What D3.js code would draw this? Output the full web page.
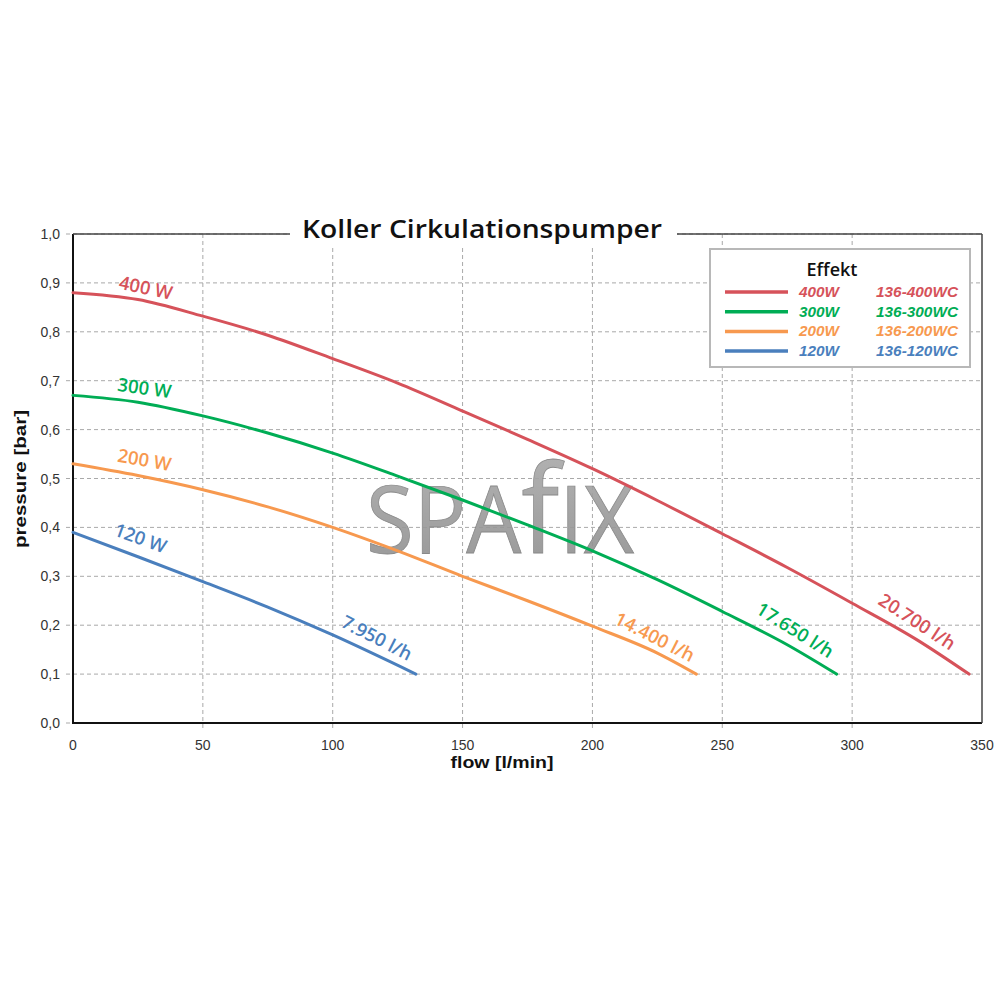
<!DOCTYPE html>
<html><head><meta charset="utf-8">
<script src="https://cdn.jsdelivr.net/npm/d3@7"></script>
<style>body{margin:0;background:#fff}svg{display:block}</style>
</head><body>
<svg id="c" width="1000" height="1000"></svg>
<script>
// ---- data ----
const seriesNames = ["400W", "300W", "200W", "120W"];
const seriesCodes = ["136-400WC", "136-300WC", "136-200WC", "136-120WC"];
const seriesColors = ["#d6525a", "#00ad55", "#f7994f", "#4a7fbd"];
const flow400 = [0, 25, 50, 75, 100, 125, 150, 175, 200, 225, 250, 275, 300, 325, 345];
const pres400 = [0.88, 0.866, 0.832, 0.793, 0.745, 0.695, 0.638, 0.58, 0.52, 0.455, 0.387, 0.318, 0.245, 0.17, 0.10];
const flow300 = [0, 25, 50, 75, 100, 125, 150, 175, 200, 225, 250, 275, 294];
const pres300 = [0.67, 0.656, 0.628, 0.593, 0.552, 0.505, 0.456, 0.405, 0.352, 0.293, 0.228, 0.16, 0.10];
const flow200 = [0, 25, 50, 75, 100, 125, 150, 175, 200, 225, 240];
const pres200 = [0.53, 0.506, 0.477, 0.442, 0.40, 0.352, 0.30, 0.25, 0.198, 0.143, 0.10];
const flow120 = [0, 25, 50, 75, 100, 132];
const pres120 = [0.39, 0.34, 0.289, 0.237, 0.18, 0.10];
const curveLabels = ["400 W", "300 W", "200 W", "120 W"];
const endLabels = ["20.700 l/h", "17.650 l/h", "14.400 l/h", "7.950 l/h"];
const xTicks = [0, 50, 100, 150, 200, 250, 300, 350];
const yTicks = [0, 0.1, 0.2, 0.3, 0.4, 0.5, 0.6, 0.7, 0.8, 0.9, 1.0];
const titleText = "Koller Cirkulationspumper";
const xLabel = "flow [l/min]";
const yLabel = "pressure [bar]";
const legendTitle = "Effekt";
const watermark = ["SPA", "f", "IX"];

// label anchors in data units [flow, pressure, angle]
const curveLabelPos = [[28, 0.89, 12], [27.5, 0.685, 8], [27.5, 0.538, 10], [26, 0.378, 20]];
const endLabelPos = [[325, 0.207, 33], [278, 0.19, 32], [224, 0.176, 27], [117, 0.174, 27]];

const series = [
  {f: flow400, p: pres400}, {f: flow300, p: pres300},
  {f: flow200, p: pres200}, {f: flow120, p: pres120}
];

// ---- layout ----
const svg = d3.select("#c");
const L = 73, R = 982, T = 234, B = 723;
const x = d3.scaleLinear().domain([0, 350]).range([L, R]);
const y = d3.scaleLinear().domain([0, 1]).range([B, T]);
const fmtY = d => d3.format(".1f")(d).replace(".", ",");

// gridlines
const grid = svg.append("g").attr("stroke", "#a9a9a9").attr("stroke-width", 1).attr("stroke-dasharray", "4,3");
grid.selectAll("line.h").data(yTicks.slice(1)).join("line")
  .attr("x1", L - 7).attr("x2", R).attr("y1", d => y(d)).attr("y2", d => y(d));
grid.selectAll("line.v").data(xTicks.slice(1, -1)).join("line")
  .attr("x1", d => x(d)).attr("x2", d => x(d)).attr("y1", T).attr("y2", B + 6);
grid.append("line").attr("x1", L - 7).attr("x2", L).attr("y1", y(0)).attr("y2", y(0));

// watermark
const wmGrad = svg.append("defs").append("linearGradient").attr("id", "wmg").attr("x1", 0).attr("y1", 0).attr("x2", 0).attr("y2", 1);
wmGrad.append("stop").attr("offset", "0%").attr("stop-color", "#b0b0b0");
wmGrad.append("stop").attr("offset", "100%").attr("stop-color", "#8a8a8a");
const wm = svg.append("text").attr("x", 500).attr("y", 553).attr("text-anchor", "middle")
  .attr("font-family", "Open Sans, sans-serif").attr("font-size", 94)
  .attr("fill", "url(#wmg)").attr("stroke", "#7d7d7d").attr("stroke-width", 0.8).attr("opacity", 0.9);
wm.append("tspan").text(watermark[0]);
wm.append("tspan").attr("font-size", 122).text(watermark[1]);
wm.append("tspan").text(watermark[2]);
wm.attr("textLength", 268).attr("lengthAdjust", "spacingAndGlyphs");

// axes lines
svg.append("g").attr("stroke", "#111").attr("stroke-width", 2).call(g => {
  g.append("line").attr("x1", L).attr("x2", L).attr("y1", T).attr("y2", B + 1);
  g.append("line").attr("x1", L).attr("x2", R).attr("y1", B).attr("y2", B);
});
svg.append("g").attr("stroke", "#444").attr("stroke-width", 1.5).call(g => {
  g.append("line").attr("x1", L).attr("x2", R).attr("y1", T).attr("y2", T);
  g.append("line").attr("x1", R).attr("x2", R).attr("y1", T).attr("y2", B);
});

// tick labels
svg.append("g").selectAll("text").data(yTicks).join("text")
  .attr("x", 60).attr("y", d => y(d) + 5).attr("text-anchor", "end")
  .attr("font-family", "Liberation Sans, Arial, sans-serif").attr("font-size", 14).attr("fill", "#333")
  .text(fmtY);
svg.append("g").selectAll("text").data(xTicks).join("text")
  .attr("x", d => x(d)).attr("y", 750).attr("text-anchor", "middle")
  .attr("font-family", "Liberation Sans, Arial, sans-serif").attr("font-size", 14).attr("fill", "#333")
  .text(d => d);

// axis titles
svg.append("text").attr("x", 502).attr("y", 768).attr("text-anchor", "middle")
  .attr("font-family", "Liberation Sans, Arial, sans-serif").attr("font-weight", "bold").attr("font-size", 17)
  .attr("textLength", 103).attr("lengthAdjust", "spacingAndGlyphs")
  .attr("fill", "#111").text(xLabel);
svg.append("text").attr("transform", "translate(26,479) rotate(-90)").attr("text-anchor", "middle")
  .attr("font-family", "Liberation Sans, Arial, sans-serif").attr("font-weight", "bold").attr("font-size", 17)
  .attr("textLength", 138).attr("lengthAdjust", "spacingAndGlyphs")
  .attr("fill", "#111").text(yLabel);

// curves
const line = d3.line().x(d => x(d[0])).y(d => y(d[1])).curve(d3.curveMonotoneX);
svg.append("g").selectAll("path").data(series).join("path")
  .attr("d", s => line(s.f.map((f, i) => [f, s.p[i]])))
  .attr("fill", "none").attr("stroke", (s, i) => seriesColors[i]).attr("stroke-width", 3)
  .attr("stroke-linecap", "round");

// curve labels
const lblFont = "Open Sans, sans-serif";
svg.append("g").selectAll("text").data(curveLabels).join("text")
  .attr("transform", (d, i) => `translate(${x(curveLabelPos[i][0])},${y(curveLabelPos[i][1])}) rotate(${curveLabelPos[i][2]})`)
  .attr("text-anchor", "middle").attr("dy", "0.35em")
  .attr("font-family", lblFont).attr("font-weight", 600).attr("font-size", 18.5)
  .attr("fill", (d, i) => seriesColors[i]).text(d => d);
svg.append("g").selectAll("text").data(endLabels).join("text")
  .attr("transform", (d, i) => `translate(${x(endLabelPos[i][0])},${y(endLabelPos[i][1])}) rotate(${endLabelPos[i][2]})`)
  .attr("text-anchor", "middle").attr("dy", "0.35em")
  .attr("font-family", lblFont).attr("font-weight", 600).attr("font-size", 18.5)
  .attr("fill", (d, i) => seriesColors[i]).text(d => d);

// title
svg.append("rect").attr("x", 290).attr("y", 212).attr("width", 387).attr("height", 36).attr("fill", "#fff");
svg.append("text").attr("x", 482).attr("y", 238).attr("text-anchor", "middle")
  .attr("font-family", "Open Sans, sans-serif").attr("font-weight", 600).attr("font-size", 26)
  .attr("fill", "#111").attr("textLength", 360).attr("lengthAdjust", "spacingAndGlyphs").text(titleText);

// legend
const lg = svg.append("g");
lg.append("rect").attr("x", 710).attr("y", 249).attr("width", 260).attr("height", 118)
  .attr("fill", "#fff").attr("stroke", "#b8b8b8").attr("stroke-width", 2);
lg.append("text").attr("x", 832).attr("y", 276).attr("text-anchor", "middle")
  .attr("font-family", "Open Sans, sans-serif").attr("font-weight", 600).attr("font-size", 18)
  .attr("fill", "#111").text(legendTitle);
const rows = lg.selectAll("g.row").data(seriesNames).join("g").attr("transform", (d, i) => `translate(0,${292 + i * 19.7})`);
rows.append("line").attr("x1", 725).attr("x2", 788).attr("y1", 0).attr("y2", 0)
  .attr("stroke", (d, i) => seriesColors[i]).attr("stroke-width", 3.5);
rows.append("text").attr("x", 799).attr("y", 5).text(d => d)
  .attr("font-family", "Liberation Sans, Arial, sans-serif").attr("font-weight", "bold").attr("font-style", "italic")
  .attr("font-size", 14).attr("textLength", 40).attr("lengthAdjust", "spacingAndGlyphs")
  .attr("fill", (d, i) => seriesColors[i]);
rows.append("text").attr("x", 876).attr("y", 5).text((d, i) => seriesCodes[i])
  .attr("font-family", "Liberation Sans, Arial, sans-serif").attr("font-weight", "bold").attr("font-style", "italic")
  .attr("font-size", 14).attr("textLength", 82).attr("lengthAdjust", "spacingAndGlyphs")
  .attr("fill", (d, i) => seriesColors[i]);
</script>
</body></html>
